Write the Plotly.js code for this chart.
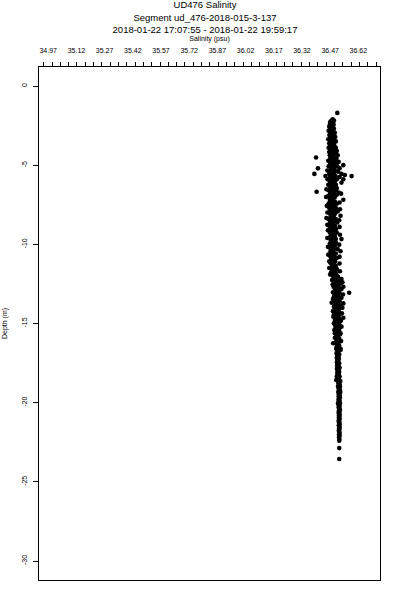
<!DOCTYPE html>
<html>
<head>
<meta charset="utf-8">
<script src="https://cdn.plot.ly/plotly-3.0.1.min.js"></script>
<style>html,body{margin:0;padding:0;background:#fff;}#chart{width:400px;height:600px;}</style>
</head>
<body>
<div id="chart"></div>
<script>
// Each row: [depth (m), salinity (psu), salinity (psu), ...]
const layerNearSurface = [
  [-1.70,36.508],[-2.10,36.483],[-2.18,36.478,36.490],[-2.25,36.472],[-2.31,36.485,36.470],
  [-2.38,36.478],[-2.44,36.468,36.488],[-2.50,36.476],[-2.57,36.465,36.483],[-2.63,36.474],
  [-2.70,36.470,36.490],[-2.76,36.480],[-2.83,36.462,36.477],[-2.90,36.486],[-2.96,36.470,36.495],
  [-3.03,36.478],[-3.10,36.466,36.488],[-3.16,36.475],[-3.22,36.483,36.497],[-3.30,36.470],
  [-3.36,36.460,36.480],[-3.43,36.490],[-3.50,36.472,36.500],[-3.56,36.482],[-3.62,36.465,36.488],
  [-3.70,36.476],[-3.76,36.492,36.470],[-3.83,36.483],[-3.90,36.462,36.500],[-3.96,36.478]
];
const layerUpper = [
  [-4.03,36.470,36.490],[-4.10,36.482,36.505],[-4.17,36.465],[-4.24,36.478,36.498],[-4.31,36.488],
  [-4.38,36.468,36.510],[-4.45,36.480],[-4.52,36.395,36.492],[-4.58,36.470,36.503],[-4.65,36.485],
  [-4.72,36.460,36.495],[-4.79,36.478,36.515],[-4.86,36.488],[-4.93,36.470,36.500],[-5.00,36.482,36.540],
  [-5.07,36.462,36.508],[-5.14,36.490],[-5.20,36.405,36.475,36.520],[-5.27,36.485],[-5.34,36.455,36.500],
  [-5.41,36.470,36.512],[-5.48,36.490],[-5.55,36.386,36.465,36.530],[-5.62,36.480,36.548],
  [-5.69,36.445,36.498,36.584],[-5.75,36.470,36.520],[-5.82,36.488],[-5.89,36.456,36.505,36.540],
  [-5.96,36.478],[-6.03,36.468,36.495],[-6.10,36.485,36.530],[-6.17,36.474],[-6.24,36.460,36.500],
  [-6.31,36.490],[-6.38,36.478]
];
const layerMiddle = [
  [-6.45,36.470,36.505],[-6.52,36.485,36.450],[-6.59,36.462,36.498],[-6.68,36.398,36.478],[-6.73,36.490,36.515],
  [-6.80,36.470,36.528],[-6.87,36.482,36.505],[-6.94,36.460],[-7.01,36.475,36.495,36.448],[-7.08,36.488],
  [-7.18,36.468,36.540],[-7.22,36.480],[-7.29,36.495,36.470],[-7.36,36.485,36.520],[-7.43,36.462,36.505],
  [-7.50,36.478],[-7.57,36.490,36.470,36.452],[-7.64,36.483],[-7.71,36.465,36.500],[-7.78,36.477,36.522],
  [-7.85,36.492],[-7.92,36.470,36.510],[-7.99,36.484,36.455],[-8.06,36.468,36.496],[-8.13,36.478],
  [-8.20,36.490,36.525],[-8.27,36.472],[-8.34,36.485,36.450],[-8.41,36.462,36.500],[-8.48,36.480,36.518],
  [-8.55,36.493],[-8.62,36.470,36.508],[-8.69,36.484],[-8.76,36.475,36.455],[-8.83,36.495,36.465],
  [-8.90,36.486,36.520],[-8.97,36.478],[-9.04,36.470,36.500],[-9.11,36.490,36.458],[-9.18,36.480],
  [-9.25,36.468,36.505],[-9.32,36.485],[-9.39,36.476,36.522],[-9.46,36.495],[-9.53,36.470,36.488],
  [-9.60,36.480,36.455],[-9.67,36.500,36.530],[-9.74,36.474],[-9.81,36.488],[-9.88,36.478,36.500],
  [-9.95,36.468],[-10.02,36.485,36.518],[-10.09,36.495,36.475],[-10.16,36.483,36.458],[-10.23,36.470],
  [-10.30,36.490,36.510],[-10.37,36.480],[-10.44,36.472,36.525],[-10.51,36.488],[-10.58,36.500,36.478],
  [-10.65,36.485,36.460],[-10.72,36.468],[-10.79,36.493,36.520],[-10.86,36.480,36.505],[-10.93,36.475],
  [-11.00,36.488],[-11.07,36.496,36.465],[-11.14,36.482,36.470],[-11.21,36.490,36.520],[-11.28,36.478],
  [-11.35,36.500,36.484],[-11.42,36.492],[-11.49,36.476,36.465],[-11.56,36.488,36.505],[-11.63,36.495],
  [-11.70,36.482,36.522],[-11.77,36.498,36.475],[-11.84,36.490],[-11.91,36.503,36.470],[-11.98,36.485],
  [-12.05,36.495,36.512],[-12.12,36.488],[-12.19,36.500,36.530],[-12.26,36.480,36.508]
];
const layerLower = [
  [-12.33,36.495,36.515],[-12.40,36.505,36.535],[-12.47,36.490,36.525],[-12.54,36.510,36.483],[-12.61,36.498],
  [-12.68,36.515,36.488,36.540],[-12.75,36.505],[-12.82,36.495,36.530],[-12.89,36.520,36.505],[-13.06,36.571,36.500],
  [-13.03,36.512,36.485],[-13.10,36.492,36.520],[-13.17,36.505,36.538],[-13.24,36.498],[-13.31,36.515,36.490],
  [-13.38,36.503,36.530],[-13.45,36.485],[-13.52,36.508],[-13.59,36.495,36.520],[-13.69,36.478,36.503],[-13.73,36.512,36.540],
  [-13.80,36.498],[-13.87,36.505,36.525],[-13.94,36.490],[-14.01,36.510,36.535],[-14.08,36.500,36.518],
  [-14.15,36.493],[-14.22,36.507,36.485],[-14.29,36.515,36.498],[-14.36,36.505,36.532],[-14.43,36.490,36.520],
  [-14.50,36.510],[-14.57,36.500,36.487],[-14.64,36.515,36.540],[-14.71,36.505],[-14.78,36.495,36.528],
  [-14.85,36.510,36.525],[-14.92,36.502],[-14.99,36.515,36.490],[-15.06,36.495,36.508],[-15.13,36.520],
  [-15.20,36.505,36.530],[-15.27,36.498,36.513],[-15.34,36.508],[-15.41,36.518,36.492],[-15.48,36.500,36.512],
  [-15.55,36.505],[-15.62,36.495,36.525],[-15.69,36.510,36.522],[-15.76,36.505],[-15.90,36.512,36.495],
  [-15.97,36.503,36.518],[-16.04,36.508],[-16.11,36.515,36.528],[-16.18,36.500],[-16.25,36.486,36.512],
  [-16.32,36.508],[-16.39,36.518],[-16.46,36.505,36.515],[-16.53,36.510],[-16.60,36.502,36.525],
  [-16.67,36.515,36.525],[-16.74,36.508],[-16.81,36.512],[-16.88,36.504],[-16.95,36.518,36.510],
  [-17.02,36.508],[-17.09,36.514],[-17.16,36.505],[-17.23,36.516,36.510],[-17.30,36.508],
  [-17.37,36.513],[-17.44,36.506],[-17.51,36.518,36.510],[-17.58,36.512],[-17.65,36.507],
  [-17.72,36.515],[-17.79,36.510,36.520],[-17.86,36.506],[-17.93,36.514],[-18.00,36.509],
  [-18.07,36.518,36.512],[-18.14,36.508],[-18.21,36.515],[-18.28,36.510],[-18.35,36.505,36.520],
  [-18.42,36.512],[-18.49,36.516],[-18.57,36.502]
];
const layerDeep = [
  [-18.63,36.512,36.524],[-18.70,36.518],[-18.77,36.514],[-18.84,36.520],[-18.91,36.516],
  [-18.98,36.522,36.512],[-19.05,36.518],[-19.12,36.515],[-19.19,36.521],[-19.26,36.517],
  [-19.33,36.513,36.524],[-19.40,36.519],[-19.47,36.516],[-19.54,36.520],[-19.61,36.515],
  [-19.68,36.522],[-19.75,36.518],[-19.82,36.514],[-19.89,36.520],[-19.96,36.517],
  [-20.03,36.522,36.512],[-20.10,36.518],[-20.17,36.516],[-20.24,36.520],[-20.31,36.515],
  [-20.38,36.519],[-20.45,36.522],[-20.52,36.516],[-20.59,36.519],[-20.66,36.515],
  [-20.73,36.520],[-20.80,36.517],[-20.87,36.519],[-20.94,36.516],[-21.01,36.520],
  [-21.08,36.518],[-21.15,36.515],[-21.22,36.519],[-21.29,36.517],[-21.36,36.520],
  [-21.43,36.516],[-21.50,36.518],[-21.57,36.520],[-21.64,36.517],[-21.71,36.519],
  [-21.78,36.516],[-21.85,36.518],[-21.92,36.520],[-21.99,36.517],[-22.06,36.519],
  [-22.13,36.518],[-22.20,36.517],[-22.30,36.519],[-22.40,36.518],[-22.87,36.518],[-23.56,36.518]
];

const xTickVals = [34.97,35.12,35.27,35.42,35.57,35.72,35.87,36.02,36.17,36.32,36.47,36.62];
const xTickText = ['34.97','35.12','35.27','35.42','35.57','35.72','35.87','36.02','36.17','36.32','36.47','36.62'];
const yTickVals = [0,-5,-10,-15,-20,-25,-30];
const yTickText = ['0','-5','-10','-15','-20','-25','-30'];

const titleLines = ['UD476 Salinity','Segment ud_476-2018-015-3-137','2018-01-22 17:07:55 - 2018-01-22 19:59:17'];

const sal = [], dep = [];
[layerNearSurface, layerUpper, layerMiddle, layerLower, layerDeep].forEach(layer => {
  layer.forEach(row => {
    for (let i = 1; i < row.length; i++) { dep.push(row[0]); sal.push(row[i]); }
  });
});

const font = 'Liberation Sans, Arial, Helvetica, sans-serif';

Plotly.newPlot('chart', [{
  type: 'scatter', mode: 'markers', x: sal, y: dep,
  marker: {color: '#000', size: 4.6, line: {width: 0}},
  hoverinfo: 'skip', showlegend: false
}], {
  width: 400, height: 600,
  margin: {l: 38.5, r: 20, t: 67, b: 20},
  paper_bgcolor: '#fff', plot_bgcolor: '#fff',
  showlegend: false, hovermode: false,
  font: {family: font, color: '#000'},
  title: {text: titleLines.join('<br>'), font: {size: 9.5, family: font, color: '#000'},
          x: 0.5125, xanchor: 'center', xref: 'container', y: 0.986, yanchor: 'middle', yref: 'container'},
  xaxis: {
    side: 'top', range: [34.921, 36.735], showgrid: false, zeroline: false,
    showline: true, linecolor: '#000', linewidth: 1, mirror: true,
    tickmode: 'array', tickvals: xTickVals, ticktext: xTickText,
    ticks: 'outside', ticklen: 10, tickcolor: 'rgba(0,0,0,0)',
    tickfont: {size: 7, family: font, color: '#000'},
    minor: {ticks: 'outside', tick0: 34.946, dtick: 0.0442, ticklen: 4, tickcolor: '#000', tickwidth: 1, showgrid: false},
    title: {text: 'Salinity (psu)', font: {size: 7, family: font, color: '#000'}, standoff: 4},
    automargin: false, fixedrange: true
  },
  yaxis: {
    range: [-31.2, 1.2], showgrid: false, zeroline: false,
    showline: true, linecolor: '#000', linewidth: 1, mirror: true,
    tickmode: 'array', tickvals: yTickVals, ticktext: yTickText,
    ticks: 'outside', ticklen: 5, tickcolor: '#000', tickwidth: 1, tickangle: -90,
    ticklabelstandoff: 3,
    tickfont: {size: 7, family: font, color: '#000'},
    title: {text: 'Depth (m)', font: {size: 7, family: font, color: '#000'}, standoff: 12},
    automargin: false, fixedrange: true
  }
}, {staticPlot: true, displayModeBar: false});
</script>
</body>
</html>
